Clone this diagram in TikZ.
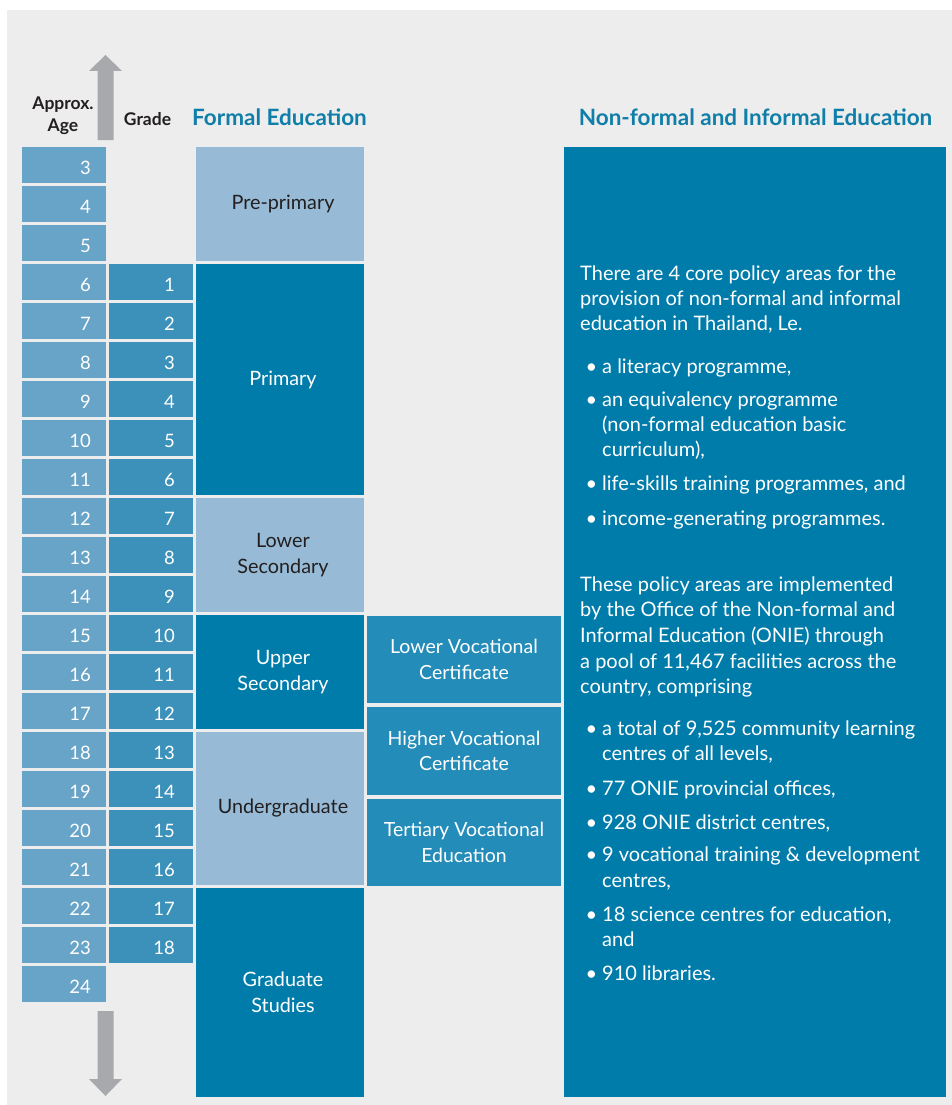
\documentclass[tikz,border=0pt]{standalone}
\usepackage{fontspec}
\setmainfont{Lato}
\definecolor{panelgray}{HTML}{EDEDED}
\definecolor{agecol}{HTML}{68A4C7}
\definecolor{gradecol}{HTML}{3B91BA}
\definecolor{deepblue}{HTML}{007CAA}
\definecolor{paleblue}{HTML}{97BBD6}
\definecolor{vocblue}{HTML}{238CB9}
\definecolor{headblue}{HTML}{0F7EA8}
\definecolor{arrowgray}{HTML}{A8A9AD}
\definecolor{inkdark}{HTML}{231F20}
\begin{document}
\begin{tikzpicture}[x=1pt,y=-1pt,
  cell/.style={rectangle,inner sep=0pt,outer sep=0pt,minimum height=36pt},
  num/.style={inner sep=0pt,text=white,font=\fontsize{18.5}{20}\selectfont},
  stage/.style={rectangle,inner sep=0pt,outer sep=0pt,minimum width=168pt,align=center,
    font=\fontsize{19.8}{25.5}\selectfont},
  darkstage/.style={stage,fill=deepblue,text=white},
  lightstage/.style={stage,fill=paleblue,text=inkdark},
  vocbox/.style={rectangle,inner sep=0pt,outer sep=0pt,minimum width=194pt,fill=vocblue,
    text=white,align=center,font=\fontsize{19.5}{25.5}\selectfont},
  body/.style={inner sep=0pt,text=white,font=\fontsize{20}{25}\selectfont},
  colhead/.style={inner sep=0pt,text=inkdark,font=\fontsize{17.5}{22}\selectfont\bfseries,align=center},
  mainhead/.style={inner sep=0pt,text=headblue,font=\fontsize{22.5}{25}\selectfont\bfseries}
]
\useasboundingbox (0,0) rectangle (952,1105);
\fill[white] (0,0) rectangle (952,1105);
\fill[panelgray] (7,10) rectangle (952,1105);

% column headings
\node[colhead] (agehead) at (63,116) {Approx.\\Age};
\node[colhead,anchor=base] (gradehead) at (147.5,125) {Grade};
\node[mainhead,anchor=base] (formalhead) at (279.5,126) {Formal Education};
\node[mainhead,anchor=base] (nonformalhead) at (755.5,126) {Non-formal and Informal Education};

% age arrows
\fill[arrowgray] (97.7,140) -- (97.7,71) -- (89,71) -- (105.5,55) -- (122,71)
  -- (113.7,71) -- (113.7,140) -- cycle;
\fill[arrowgray] (97.7,1011) -- (97.7,1079) -- (89,1079) -- (105.5,1096) -- (122,1079)
  -- (113.7,1079) -- (113.7,1011) -- cycle;

% approximate ages
\foreach \a [count=\i from 0] in {3,...,24} {
  \pgfmathsetmacro\ytop{147+39*\i}
  \node[cell,fill=agecol,minimum width=84pt] (age\a) at (64,\ytop+18) {};
  \node[num,anchor=base east] (agenum\a) at (91,\ytop+27) {\a};
}
% grades
\foreach \g [count=\i from 3] in {1,...,18} {
  \pgfmathsetmacro\ytop{147+39*\i}
  \node[cell,fill=gradecol,minimum width=84pt] (grade\g) at (151,\ytop+18) {};
  \node[num,anchor=base east] (gradenum\g) at (175,\ytop+27) {\g};
}

% formal education stages
\node[lightstage,minimum height=114pt] (preprimary) at (280,204) {\hspace*{6pt}Pre-primary};
\node[darkstage,minimum height=231pt] (primary) at (280,379.5) {\hspace*{6pt}Primary};
\node[lightstage,minimum height=114pt] (lowersec) at (280,555) {\hspace*{6pt}Lower\\\hspace*{6pt}Secondary};
\node[darkstage,minimum height=114pt] (uppersec) at (280,672) {\hspace*{6pt}Upper\\\hspace*{6pt}Secondary};
\node[lightstage,minimum height=153pt] (undergrad) at (280,808.5) {\hspace*{6pt}Undergraduate};
\node[darkstage,minimum height=209pt] (graduate) at (280,992.5) {\hspace*{6pt}Graduate\\\hspace*{6pt}Studies};

% vocational track
\node[vocbox,minimum height=87pt] (lowervoc) at (464,659.5) {Lower Vocational\\Certificate};
\node[vocbox,minimum height=88pt] (highervoc) at (464,751) {Higher Vocational\\Certificate};
\node[vocbox,minimum height=87pt] (tertiaryvoc) at (464,842.5) {Tertiary Vocational\\Education};

% non-formal and informal education panel
\node[rectangle,fill=deepblue,inner sep=0pt,minimum width=382pt,minimum height=950pt] (nonformal) at (755,622) {};

\foreach \y/\x/\t [count=\k] in {
  280/580/{There are 4 core policy areas for the},
  305/580/{provision of non-formal and informal},
  330.5/580/{education in Thailand, Le.},
  373/602/{a literacy programme,},
  406.5/602/{an equivalency programme},
  431.5/602/{(non-formal education basic},
  456.5/602/{curriculum),},
  490.5/602/{life-skills training programmes, and},
  525/602/{income-generating programmes.},
  591.7/580/{These policy areas are implemented},
  616.7/580/{by the Office of the Non-formal and},
  642.3/580/{Informal Education (ONIE) through},
  668/580/{a pool of 11,467 facilities across the},
  693.3/580/{country, comprising},
  735.7/602/{a total of 9,525 community learning},
  760.7/602/{centres of all levels,},
  795/602/{77 ONIE provincial offices,},
  829/602/{928 ONIE district centres,},
  861.7/602/{9 vocational training \& development},
  887.3/602/{centres,},
  921.7/602/{18 science centres for education,},
  946/602/{and},
  980.7/602/{910 libraries.}} {
  \node[body,anchor=base west] (line\k) at (\x,\y) {\t};
}
\foreach \y [count=\k] in {373,406.5,490.5,525,735.7,795,829,861.7,921.7,980.7} {
  \node[body,anchor=base] (bullet\k) at (591.5,\y) {•};
}
\end{tikzpicture}
\end{document}
